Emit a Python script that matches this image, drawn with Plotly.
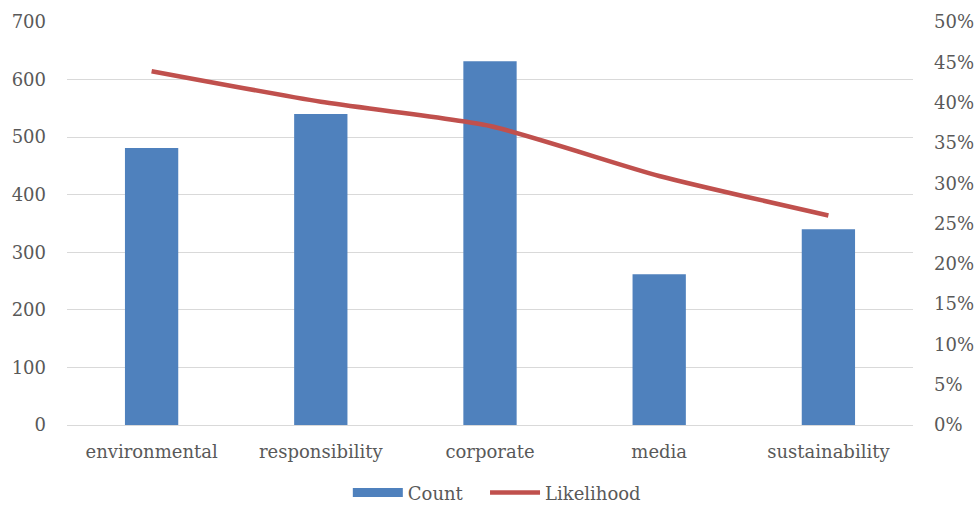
import plotly.graph_objects as go

categories = ["environmental", "responsibility", "corporate", "media", "sustainability"]
counts = [481, 540, 632, 262, 340]
likelihood = [0.439, 0.401, 0.371, 0.309, 0.260]

FONT = "'DejaVu Serif', serif"
TEXT = "#595959"
GRID = "#d9d9d9"
BLUE = "#4f81bd"
RED = "#c0504d"
FS = 18

fig = go.Figure()
fig.add_trace(go.Bar(
    x=categories, y=counts, name="Count",
    marker=dict(color=BLUE, line=dict(width=0)),
    yaxis="y", showlegend=False,
))
fig.add_trace(go.Scatter(
    x=categories, y=likelihood, name="Likelihood",
    mode="lines", line=dict(color=RED, width=4.5, shape="spline", smoothing=0.6),
    yaxis="y2", showlegend=False,
))
# legend entries: a wide block for the bars and a line for the likelihood
fig.add_trace(go.Scatter(
    x=[None], y=[None], name="Count   ", mode="lines",
    line=dict(color=BLUE, width=9), yaxis="y",
))
fig.add_trace(go.Scatter(
    x=[None], y=[None], name="Likelihood", mode="lines",
    line=dict(color=RED, width=4.5), yaxis="y2",
))

fig.update_layout(
    width=978, height=507,
    margin=dict(l=67, r=65, t=22, b=82, autoexpand=False),
    plot_bgcolor="white", paper_bgcolor="white",
    font=dict(family=FONT, size=FS, color=TEXT),
    bargap=0.685,
    showlegend=True,
    legend=dict(orientation="h", x=0.508, xanchor="center", xref="container",
                y=0.028, yanchor="middle", yref="container",
                font=dict(size=FS, color=TEXT), traceorder="normal",
                itemwidth=50, tracegroupgap=0),
    xaxis=dict(showgrid=False, showline=True, linecolor=GRID, linewidth=1,
               ticks="", ticklabelstandoff=10, tickfont=dict(size=FS, color=TEXT)),
    yaxis=dict(range=[0, 700], dtick=100, showgrid=True, gridcolor=GRID, gridwidth=1,
               zeroline=False, showline=False, ticks="", ticklabelstandoff=20,
               tickfont=dict(size=FS, color=TEXT)),
    yaxis2=dict(range=[0, 0.5], dtick=0.05, tickformat=".0%", overlaying="y", side="right",
                showgrid=False, zeroline=False, showline=False, ticks="",
                ticklabelstandoff=20, tickfont=dict(size=FS, color=TEXT)),
)

fig.write_html("out.html")
